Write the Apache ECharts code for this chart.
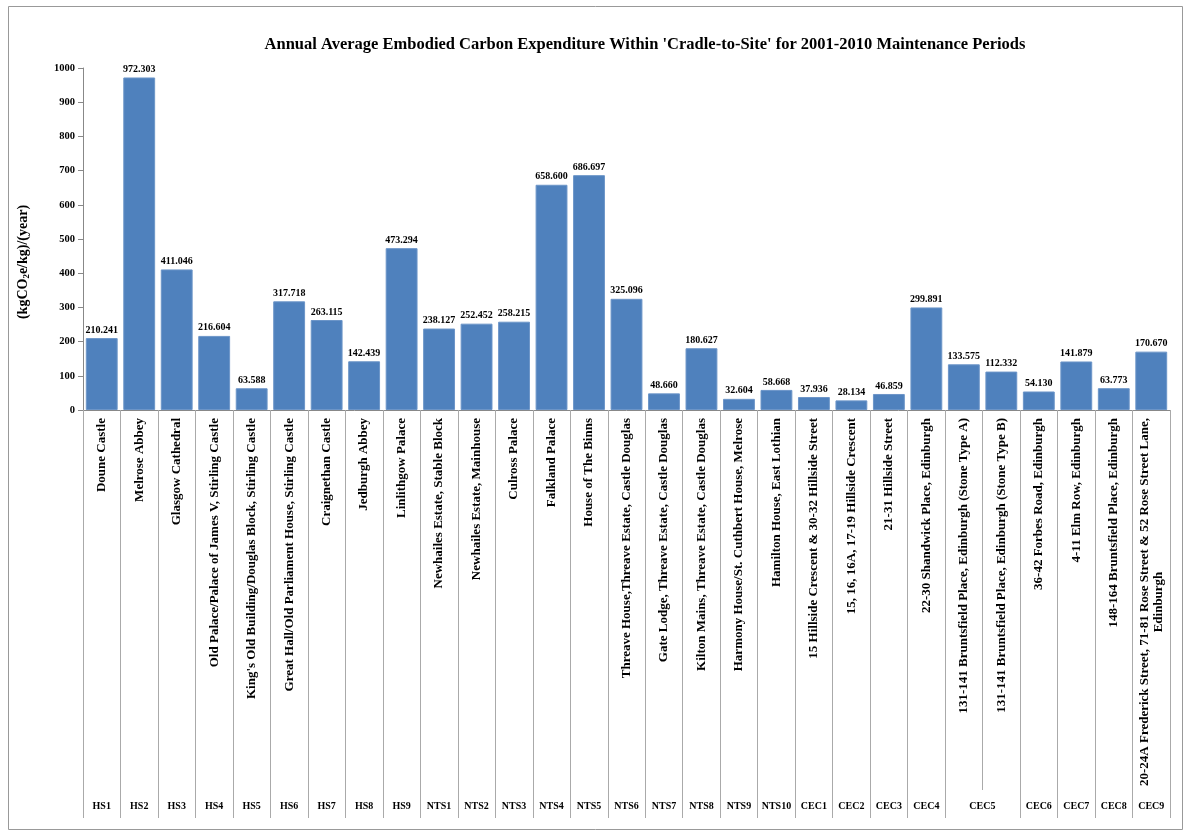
<!DOCTYPE html>
<html>
<head>
<meta charset="utf-8">
<script src="https://cdn.jsdelivr.net/npm/echarts@6/dist/echarts.min.js"></script>
<style>
  html, body { margin: 0; padding: 0; background: #fff; }
  #chart { width: 1190px; height: 832px; }
</style>
</head>
<body>
<div id="chart"></div>
<script>
// Building codes shown in the lower row (CEC5 covers two stone types)
const codes = ['HS1','HS2','HS3','HS4','HS5','HS6','HS7','HS8','HS9',
  'NTS1','NTS2','NTS3','NTS4','NTS5','NTS6','NTS7','NTS8','NTS9','NTS10',
  'CEC1','CEC2','CEC3','CEC4','CEC5','','CEC6','CEC7','CEC8','CEC9'];

// Building names
const buildings = [
  'Doune Castle',
  'Melrose Abbey',
  'Glasgow Cathedral',
  'Old Palace/Palace of James V, Stirling Castle',
  "King's Old Building/Douglas Block, Stirling Castle",
  'Great Hall/Old Parliament House, Stirling Castle',
  'Craignethan Castle',
  'Jedburgh Abbey',
  'Linlithgow Palace',
  'Newhailes Estate, Stable Block',
  'Newhailes Estate, Mainhouse',
  'Culross Palace',
  'Falkland Palace',
  'House of The Binns',
  'Threave House,Threave Estate, Castle Douglas',
  'Gate Lodge, Threave Estate, Castle Douglas',
  'Kilton Mains, Threave Estate, Castle Douglas',
  'Harmony House/St. Cuthbert House, Melrose',
  'Hamilton House, East Lothian',
  '15 Hillside Crescent & 30-32 Hillside Street',
  '15, 16, 16A, 17-19 Hillside Crescent',
  '21-31 Hillside Street',
  '22-30 Shandwick Place, Edinburgh',
  '131-141 Bruntsfield Place, Edinburgh (Stone Type A)',
  '131-141 Bruntsfield Place, Edinburgh (Stone Type B)',
  '36-42 Forbes Road, Edinburgh',
  '4-11 Elm Row, Edinburgh',
  '148-164 Bruntsfield Place, Edinburgh',
  '20-24A Frederick Street, 71-81 Rose Street & 52 Rose Street Lane,\nEdinburgh'
];

// Annual average embodied carbon, (kgCO2e/kg)/(year)
const carbon = [210.241, 972.303, 411.046, 216.604, 63.588, 317.718, 263.115, 142.439, 473.294,
  238.127, 252.452, 258.215, 658.600, 686.697, 325.096, 48.660, 180.627, 32.604, 58.668,
  37.936, 28.134, 46.859, 299.891, 133.575, 112.332, 54.130, 141.879, 63.773, 170.670];

const yTicks = { min: 0, max: 1000, interval: 100 };

const SERIF = '"Liberation Serif", "Times New Roman", serif';
const SPLIT_INDEX = codes.indexOf('');   // boundary inside the CEC5 pair

const nameFont = { fontFamily: SERIF, fontWeight: 'bold', fontSize: 13, color: '#000', lineHeight: 14 };

const chart = echarts.init(document.getElementById('chart'), null, { renderer: 'canvas' });

chart.setOption({
  animation: false,
  backgroundColor: '#fff',
  title: {
    text: "Annual Average Embodied Carbon Expenditure Within 'Cradle-to-Site' for 2001-2010 Maintenance Periods",
    left: 640, top: 31, textAlign: 'center',
    textStyle: { fontFamily: SERIF, fontWeight: 'bold', fontSize: 16.5, color: '#000' }
  },
  graphic: [{
    type: 'rect', shape: { x: 8.5, y: 6.5, width: 1174, height: 823 },
    style: { fill: 'none', stroke: '#999', lineWidth: 1 }, silent: true
  }],
  grid: { left: 83, right: 20, top: 68, bottom: 422, containLabel: false },
  xAxis: [{
    type: 'category',
    data: buildings,
    position: 'bottom',
    axisLine: { lineStyle: { color: '#888' } },
    axisTick: {
      show: true, length: 408,
      interval: (i) => i !== SPLIT_INDEX,
      lineStyle: { color: '#aaa' }
    },
    axisLabel: Object.assign({
      interval: 0, rotate: 90, margin: 8,
      // multi-line names: every line centred within the label block
      formatter: (v) => v.indexOf('\n') < 0 ? v
        : v.split('\n').map((s) => '{c|' + s + '}').join('\n'),
      rich: { c: Object.assign({ align: 'center' }, nameFont) }
    }, nameFont)
  }, {
    type: 'category',
    data: codes,
    position: 'bottom',
    axisLine: { show: false },
    axisTick: {
      show: true, length: 380,
      interval: (i) => i === 0 || i === SPLIT_INDEX,
      lineStyle: { color: '#aaa' }
    },
    axisLabel: {
      interval: 0, margin: 391,
      fontFamily: SERIF, fontWeight: 'bold', fontSize: 10, color: '#000',
      formatter: (v, i) => (i === SPLIT_INDEX - 1 ? '{sh|' + v + '}' : v),
      rich: {
        sh: { fontFamily: SERIF, fontWeight: 'bold', fontSize: 10, color: '#000', padding: [0, 0, 0, 37] }
      }
    }
  }],
  yAxis: {
    type: 'value',
    min: yTicks.min, max: yTicks.max, interval: yTicks.interval,
    name: '(kgCO{sub|2}e/kg)/(year)',
    nameLocation: 'middle', nameGap: 52, nameRotate: 90,
    nameTextStyle: {
      fontFamily: SERIF, fontWeight: 'bold', fontSize: 14, color: '#000',
      padding: [0, 46, 0, 0],
      rich: { sub: { fontFamily: SERIF, fontWeight: 'bold', fontSize: 9, color: '#000', padding: [7, 0, 0, 0] } }
    },
    axisLine: { show: true, lineStyle: { color: '#888' } },
    axisTick: { show: true, length: 5, lineStyle: { color: '#888' } },
    splitLine: { show: false },
    axisLabel: {
      fontFamily: SERIF, fontWeight: 'bold', fontSize: 10.5, color: '#000', margin: 8,
      formatter: (v) => String(v)
    }
  },
  series: [{
    type: 'bar',
    data: carbon,
    barCategoryGap: '15%',
    itemStyle: { color: '#4F81BD', borderColor: '#6C95C8', borderWidth: 1 },
    label: {
      show: true, position: 'top', distance: 3,
      fontFamily: SERIF, fontWeight: 'bold', fontSize: 10, color: '#000',
      formatter: (p) => p.value.toFixed(3)
    }
  }]
});
</script>
</body>
</html>
